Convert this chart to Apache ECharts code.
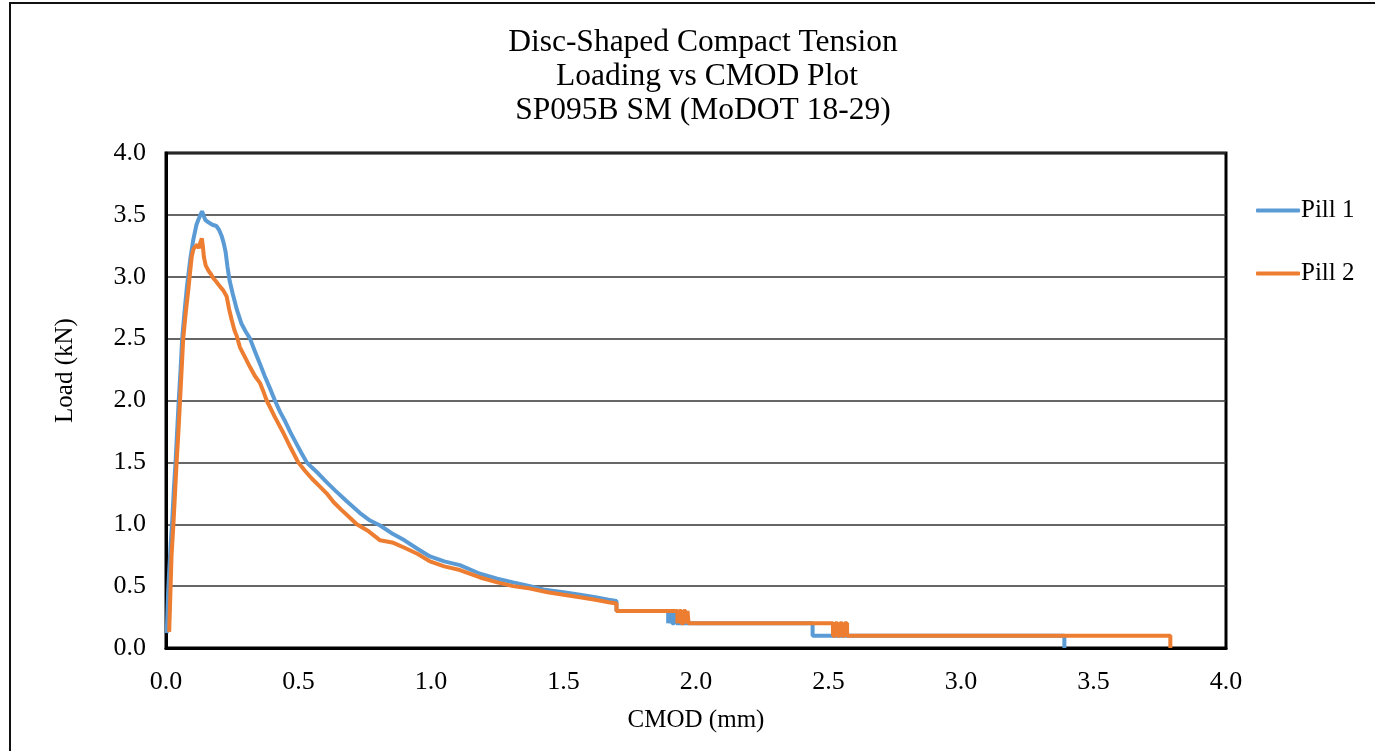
<!DOCTYPE html>
<html>
<head>
<meta charset="utf-8">
<script src="https://cdn.jsdelivr.net/npm/echarts@6/dist/echarts.min.js"></script>
<style>
html,body{margin:0;padding:0;background:#fff;}
#chart{width:1375px;height:751px;}
</style>
</head>
<body>
<div id="chart"></div>
<script>
const titleLines = ['Disc-Shaped Compact Tension', ' Loading vs CMOD Plot', 'SP095B SM (MoDOT 18-29)'];
const seriesNames = ['Pill 1', 'Pill 2'];
const xTicks = [0.0, 0.5, 1.0, 1.5, 2.0, 2.5, 3.0, 3.5, 4.0];
const yTicks = [0.0, 0.5, 1.0, 1.5, 2.0, 2.5, 3.0, 3.5, 4.0];

// Pill 1: [CMOD (mm), Load (kN)]
const pill1 = [
  [0.003,0.12],[0.008,0.45],[0.012,0.62],[0.018,0.85],[0.024,1.05],[0.030,1.3],[0.036,1.5],[0.042,1.75],
  [0.048,2.0],[0.055,2.25],[0.061,2.5],[0.070,2.72],[0.079,2.92],[0.092,3.15],[0.103,3.30],[0.115,3.42],
  [0.122,3.46],[0.130,3.50],[0.136,3.53],[0.141,3.50],[0.148,3.46],[0.160,3.44],[0.175,3.42],[0.190,3.41],
  [0.200,3.38],[0.210,3.33],[0.218,3.27],[0.225,3.20],[0.232,3.08],[0.240,2.97],[0.252,2.86],[0.268,2.73],
  [0.285,2.62],[0.300,2.56],[0.317,2.50],[0.335,2.40],[0.352,2.31],[0.372,2.20],[0.392,2.10],[0.411,2.00],
  [0.430,1.91],[0.450,1.83],[0.470,1.74],[0.490,1.66],[0.510,1.58],[0.531,1.50],[0.550,1.46],[0.575,1.41],
  [0.606,1.34],[0.640,1.27],[0.680,1.19],[0.732,1.09],[0.770,1.03],[0.808,0.99],[0.850,0.93],[0.900,0.87],
  [0.950,0.80],[0.996,0.74],[1.050,0.70],[1.109,0.67],[1.185,0.60],[1.250,0.56],[1.310,0.53],[1.374,0.50],
  [1.430,0.47],[1.500,0.45],[1.562,0.43],[1.620,0.41],[1.670,0.39],[1.700,0.38],[1.700,0.30],[1.895,0.30],
  [1.895,0.20],[1.902,0.20],[1.902,0.30],[1.910,0.30],[1.910,0.20],[1.918,0.20],[1.918,0.30],[1.926,0.30],
  [1.926,0.20],[2.440,0.20],[2.440,0.10],[3.390,0.10],[3.390,0.00]
];

// Pill 2: [CMOD (mm), Load (kN)]
const pill2 = [
  [0.012,0.13],[0.016,0.40],[0.021,0.75],[0.028,1.00],[0.034,1.25],[0.040,1.50],[0.047,1.75],[0.053,2.00],
  [0.059,2.25],[0.065,2.50],[0.075,2.72],[0.084,2.89],[0.091,3.04],[0.097,3.16],[0.103,3.22],[0.109,3.24],
  [0.118,3.26],[0.124,3.23],[0.130,3.28],[0.135,3.31],[0.139,3.25],[0.143,3.16],[0.150,3.09],[0.160,3.05],
  [0.170,3.02],[0.178,2.99],[0.190,2.96],[0.204,2.92],[0.216,2.89],[0.229,2.84],[0.238,2.74],[0.248,2.65],
  [0.258,2.57],[0.267,2.52],[0.279,2.43],[0.298,2.35],[0.317,2.27],[0.335,2.20],[0.355,2.14],[0.368,2.07],
  [0.380,2.00],[0.410,1.87],[0.440,1.75],[0.470,1.62],[0.499,1.50],[0.525,1.43],[0.550,1.37],[0.578,1.31],
  [0.606,1.25],[0.632,1.18],[0.660,1.12],[0.690,1.06],[0.720,1.00],[0.760,0.95],[0.808,0.87],[0.858,0.85],
  [0.900,0.81],[0.950,0.76],[0.996,0.70],[1.050,0.66],[1.109,0.63],[1.185,0.57],[1.250,0.53],[1.310,0.50],
  [1.374,0.48],[1.440,0.45],[1.500,0.43],[1.562,0.41],[1.620,0.39],[1.670,0.37],[1.700,0.36],[1.700,0.30],
  [1.930,0.30],[1.930,0.20],[1.937,0.20],[1.937,0.30],[1.945,0.30],[1.945,0.20],[1.953,0.20],[1.953,0.30],
  [1.961,0.30],[1.961,0.20],[1.968,0.20],[1.968,0.30],[1.972,0.30],[1.972,0.20],[2.517,0.20],[2.517,0.10],
  [2.525,0.10],[2.525,0.20],[2.534,0.20],[2.534,0.10],[2.543,0.10],[2.543,0.20],[2.552,0.20],[2.552,0.10],
  [2.561,0.10],[2.561,0.20],[2.570,0.20],[2.570,0.10],[3.790,0.10],[3.790,0.00]
];

const FONT = 'Liberation Serif';
const chart = echarts.init(document.getElementById('chart'), null, {renderer: 'canvas'});
chart.setOption({
  animation: false,
  backgroundColor: '#fff',
  textStyle: {fontFamily: FONT, color: '#000'},
  title: {
    text: titleLines.join('\n'),
    left: 698,
    textAlign: 'center',
    top: 21,
    textStyle: {fontFamily: FONT, fontSize: 31.5, fontWeight: 'normal', color: '#000', lineHeight: 34}
  },
  graphic: [{
    type: 'rect', silent: true, z: -1,
    shape: {x: 10, y: 3, width: 1400, height: 800},
    style: {fill: 'none', stroke: '#111', lineWidth: 2}
  }],
  legend: {
    orient: 'vertical',
    left: 1251,
    top: 193,
    itemGap: 38,
    itemWidth: 44,
    itemHeight: 4,
    icon: 'roundRect',
    textStyle: {fontFamily: FONT, fontSize: 25, color: '#000', padding: [0,0,0,-4]},
    data: seriesNames
  },
  grid: {
    left: 166, top: 153, width: 1060, height: 495,
    show: true, borderColor: '#000', borderWidth: 3, backgroundColor: 'transparent'
  },
  xAxis: {
    type: 'value', min: 0, max: 4, interval: 0.5,
    name: 'CMOD (mm)', nameLocation: 'middle', nameGap: 60,
    nameTextStyle: {fontFamily: FONT, fontSize: 25, color: '#000'},
    axisLine: {show: true, lineStyle: {color: '#000', width: 3}},
    axisTick: {show: false},
    splitLine: {show: false},
    axisLabel: {
      margin: 21, fontFamily: FONT, fontSize: 26, color: '#000',
      formatter: v => { const t = xTicks.find(x => Math.abs(x - v) < 1e-9); return (t !== undefined ? t : v).toFixed(1); }
    }
  },
  yAxis: {
    type: 'value', min: 0, max: 4, interval: 0.5,
    name: 'Load (kN)', nameLocation: 'middle', nameGap: 88,
    nameTextStyle: {fontFamily: FONT, fontSize: 25, color: '#000', padding: [0, 0, 0, 60]},
    axisLine: {show: true, lineStyle: {color: '#000', width: 3}},
    axisTick: {show: false},
    splitLine: {show: true, lineStyle: {color: '#333', width: 1.6}},
    axisLabel: {
      margin: 20, fontFamily: FONT, fontSize: 26, color: '#000', padding: [4, 0, 0, 0],
      formatter: v => { const t = yTicks.find(y => Math.abs(y - v) < 1e-9); return (t !== undefined ? t : v).toFixed(1); }
    }
  },
  series: [
    {name: seriesNames[0], type: 'line', data: pill1, showSymbol: false, symbol: 'none',
     lineStyle: {color: '#5B9BD5', width: 4}, itemStyle: {color: '#5B9BD5'}, z: 2},
    {name: seriesNames[1], type: 'line', data: pill2, showSymbol: false, symbol: 'none',
     lineStyle: {color: '#ED7D31', width: 4}, itemStyle: {color: '#ED7D31'}, z: 3}
  ]
});
</script>
</body>
</html>
